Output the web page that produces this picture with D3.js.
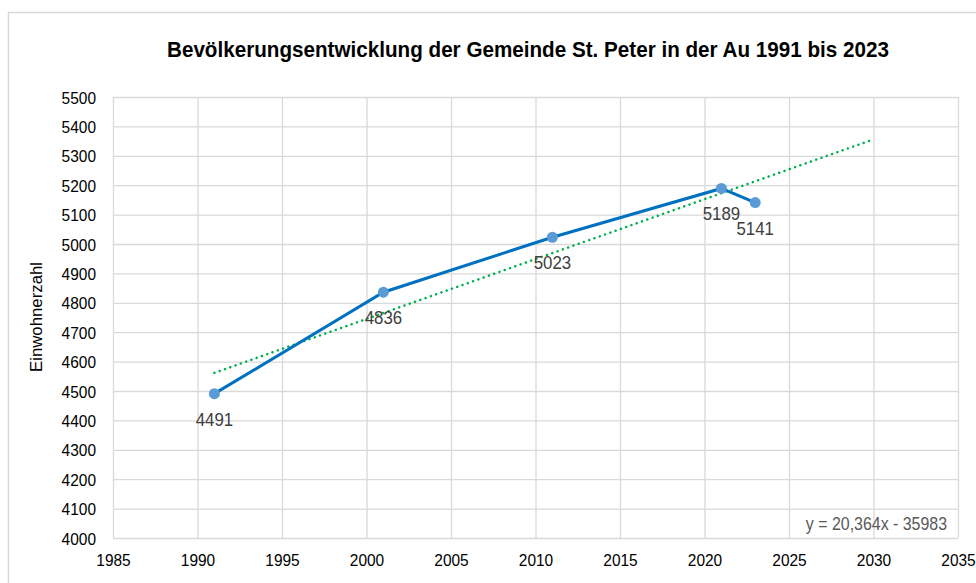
<!DOCTYPE html>
<html>
<head>
<meta charset="utf-8">
<script src="https://cdn.jsdelivr.net/npm/d3@7"></script>
<style>
  body { margin: 0; background: #fff; }
  text { font-family: "Liberation Sans", Arial, sans-serif; }
  /* the reference text is a bit narrow, squeeze it horizontally */
  text.sq { transform-box: fill-box; transform-origin: center; transform: scaleX(0.91); }
  text.sqr { transform-box: fill-box; transform-origin: right center; transform: scaleX(0.91); }
</style>
</head>
<body>
<script>
const years = [1991, 2001, 2011, 2021, 2023]
const population = [4491, 4836, 5023, 5189, 5141]
const xTicks = [1985, 1990, 1995, 2000, 2005, 2010, 2015, 2020, 2025, 2030, 2035]
const yTicks = [4000, 4100, 4200, 4300, 4400, 4500, 4600, 4700, 4800, 4900, 5000, 5100, 5200, 5300, 5400, 5500]
// trendline from the chart: y = 20,364x - 35983, drawn 1991..2030
const trendSlope = 20.364
const trendIntercept = -35983
const trendRange = [1991, 2030]

const W = 976, H = 583
const margin = {left: 113, right: 18, top: 97, bottom: 45}

const svg = d3.select('body').append('svg')
  .attr('width', W)
  .attr('height', H)

// chart frame
svg.append('rect')
  .attr('x', 8.5).attr('y', 12.5)
  .attr('width', W + 20).attr('height', H + 20)
  .attr('fill', '#fff')
  .attr('stroke', '#d9d9d9')
  .attr('stroke-width', 1.5)

const xScale = d3.scaleLinear()
  .domain([1985, 2035])
  .range([margin.left, W - margin.right])

const yScale = d3.scaleLinear()
  .domain([4000, 5500])
  .range([H - margin.bottom, margin.top])

// grid
const yAxis = d3.axisLeft(yScale)
  .tickValues(yTicks)
  .tickSize(-(xScale.range()[1] - xScale.range()[0]))
  .tickPadding(17)
  .tickFormat(d3.format('d'))

const xAxis = d3.axisBottom(xScale)
  .tickValues(xTicks)
  .tickSize(-(yScale.range()[0] - yScale.range()[1]))
  .tickPadding(17)
  .tickFormat(d3.format('d'))

const gx = svg.append('g')
  .attr('transform', 'translate(0,' + yScale(4000) + ')')
  .call(xAxis)

const gy = svg.append('g')
  .attr('transform', 'translate(' + xScale(1985) + ',0)')
  .call(yAxis)

;[gx, gy].forEach(g => {
  g.select('.domain').remove()
  g.selectAll('.tick line')
    .attr('stroke', '#d9d9d9')
    .attr('stroke-width', 1.3)
  g.selectAll('.tick text')
    .attr('fill', '#000')
    .style('font-size', '17px')
})
gy.selectAll('.tick text').attr('dy', '0.36em').attr('class', 'sqr')
gx.selectAll('.tick text').attr('dy', '0.66em').attr('class', 'sq')

// trendline
const trend = trendRange.map(x => [x, trendSlope * x + trendIntercept])
svg.append('line')
  .attr('x1', xScale(trend[0][0]))
  .attr('y1', yScale(trend[0][1]))
  .attr('x2', xScale(trend[1][0]))
  .attr('y2', yScale(trend[1][1]))
  .attr('stroke', '#00b050')
  .attr('stroke-width', 2.5)
  .attr('stroke-linecap', 'round')
  .attr('stroke-dasharray', '0.1 5.5')

const points = years.map((y, i) => ({year: y, value: population[i]}))

const line = d3.line()
  .x(d => xScale(d.year))
  .y(d => yScale(d.value))

svg.append('path')
  .datum(points)
  .attr('d', line)
  .attr('fill', 'none')
  .attr('stroke', '#0070c0')
  .attr('stroke-width', 3)

svg.selectAll('circle.pt')
  .data(points)
  .enter()
  .append('circle')
  .attr('class', 'pt')
  .attr('cx', d => xScale(d.year))
  .attr('cy', d => yScale(d.value))
  .attr('r', 5.5)
  .attr('fill', '#5b9bd5')

svg.selectAll('text.lbl')
  .data(points)
  .enter()
  .append('text')
  .attr('class', 'lbl sq')
  .attr('x', d => xScale(d.year))
  .attr('y', d => yScale(d.value) + 32)
  .attr('text-anchor', 'middle')
  .attr('fill', '#404040')
  .style('font-size', '18.5px')
  .text(d => d.value)

// equation
svg.append('text')
  .attr('class', 'sqr')
  .attr('x', 947)
  .attr('y', 530)
  .attr('text-anchor', 'end')
  .attr('fill', '#595959')
  .style('font-size', '17.5px')
  .text('y = 20,364x - 35983')

// title
svg.append('text')
  .attr('x', 528)
  .attr('y', 57)
  .attr('text-anchor', 'middle')
  .attr('fill', '#000')
  .attr('textLength', 722)
  .attr('lengthAdjust', 'spacingAndGlyphs')
  .style('font-size', '22.5px')
  .style('font-weight', 'bold')
  .text('Bevölkerungsentwicklung der Gemeinde St. Peter in der Au 1991 bis 2023')

// y axis title
svg.append('text')
  .attr('transform', 'translate(42,317) rotate(-90)')
  .attr('text-anchor', 'middle')
  .attr('fill', '#000')
  .style('font-size', '16.8px')
  .text('Einwohnerzahl')
</script>
</body>
</html>
